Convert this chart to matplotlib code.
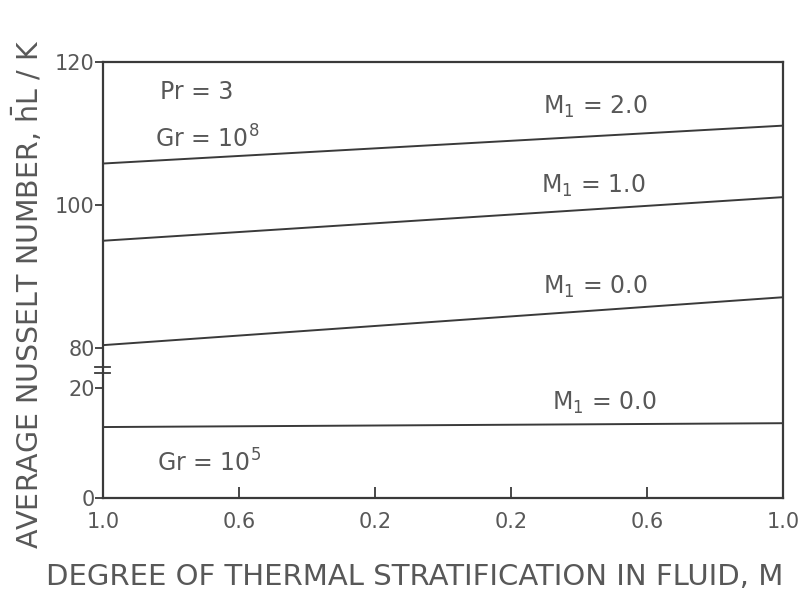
import matplotlib
matplotlib.use("Agg")
import matplotlib.pyplot as plt
import matplotlib.transforms as mtransforms
import numpy as np

# x positions are evenly spaced, labels mirror around the middle
x_ticks = [0, 1, 2, 3, 4, 5]
x_tick_labels = ["1.0", "0.6", "0.2", "0.2", "0.6", "1.0"]
x_ends = [0, 5]

y_ticks = [0, 20, 80, 100, 120]

# Gr = 10^8 curves
m1_2 = [105.8, 111.1]
m1_1 = [95.0, 101.1]
m1_0 = [80.4, 87.1]
# Gr = 10^5 curve
m1_0_low = [12.9, 13.6]

# broken y axis: 0-20 and 80-120 on different scales
brk_data = [-100, 0, 20, 80, 120, 400]
brk_pix = [-550, 0, 110, 150, 436, 436 + 280 * 7.15]


def fwd(y):
    return np.interp(y, brk_data, brk_pix)


def inv(p):
    return np.interp(p, brk_pix, brk_data)


line_c = "#3a3a3a"
text_c = "#585858"

fig = plt.figure(figsize=(8.08, 5.94), dpi=100)
ax = fig.add_axes([103 / 808, 1 - 498 / 594, 680 / 808, 436 / 594])
ax.set_yscale("function", functions=(fwd, inv))

for ys in (m1_2, m1_1, m1_0, m1_0_low):
    ax.plot(x_ends, ys, color=line_c, lw=1.4)

ax.set_xlim(0, 5)
ax.set_ylim(0, 120)

ax.set_xticks(x_ticks)
ax.set_xticklabels(x_tick_labels)
ax.set_yticks(y_ticks)
ax.set_yticklabels([str(v) for v in y_ticks])
ax.tick_params(axis="x", direction="in", length=8, width=1.3, colors=line_c,
               labelcolor=text_c, labelsize=15, pad=10)
ax.tick_params(axis="y", direction="out", length=6, width=1.3, colors=line_c,
               labelcolor=text_c, labelsize=15, pad=0)
for s in ax.spines.values():
    s.set_color(line_c)
    s.set_linewidth(1.6)

# break marks on the y axis
trans = mtransforms.blended_transform_factory(ax.transAxes, ax.transData)
for yb in (43, 51):
    ax.plot([-0.012, 0.01], [yb, yb], color=line_c, lw=1.3,
            transform=trans, clip_on=False)

fs = 17
ax.text(0.42, 115.8, "Pr = 3", color=text_c, fontsize=fs, va="center")
ax.text(0.38, 109.3, "Gr = 10$^{8}$", color=text_c, fontsize=fs, va="center")
ax.text(3.235, 113.7, "M$_1$ = 2.0", color=text_c, fontsize=fs, va="center")
ax.text(3.22, 102.7, "M$_1$ = 1.0", color=text_c, fontsize=fs, va="center")
ax.text(3.235, 88.5, "M$_1$ = 0.0", color=text_c, fontsize=fs, va="center")
ax.text(3.30, 17.3, "M$_1$ = 0.0", color=text_c, fontsize=fs, va="center")
ax.text(0.40, 6.3, "Gr = 10$^{5}$", color=text_c, fontsize=fs, va="center")

fig.text(46 / 808, 1 - 577 / 594, "DEGREE OF THERMAL STRATIFICATION IN FLUID, M",
         color=text_c, fontsize=21, ha="left", va="center")
fig.text(28 / 808, 1 - 294 / 594, "AVERAGE NUSSELT NUMBER, $\\bar{\\mathrm{h}}$L / K",
         color=text_c, fontsize=20.5, rotation=90, ha="center", va="center")

fig.savefig("out.png", dpi=100, facecolor="white")
plt.close(fig)
